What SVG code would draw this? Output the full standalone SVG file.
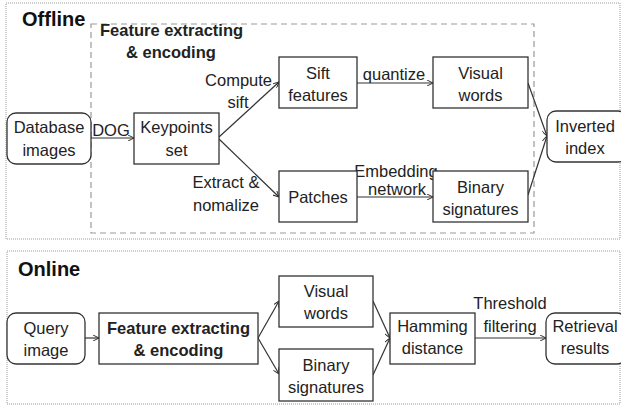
<svg xmlns="http://www.w3.org/2000/svg" width="621" height="406" viewBox="0 0 621 406">
<style>
.t{font-family:"Liberation Sans",Arial,sans-serif;font-size:16.5px;fill:#222;text-anchor:middle}
.b{font-weight:bold}
.h{font-family:"Liberation Sans",Arial,sans-serif;font-size:20px;font-weight:bold;fill:#111}
.box{fill:#fff;stroke:#333;stroke-width:1.3}
.c{fill:none;stroke:#333;stroke-width:1.2;marker-end:url(#ah)}
</style>
<defs>
<marker id="ah" viewBox="0 0 6 6" refX="6" refY="3" markerWidth="6" markerHeight="6" markerUnits="userSpaceOnUse" orient="auto">
<path d="M0,0 L6,3 L0,6" fill="none" stroke="#333" stroke-width="1"/>
</marker>
</defs>
<rect width="621" height="406" fill="#fff"/>
<g id="offline-frame">
<rect x="6" y="3" width="614" height="236" fill="none" stroke="#999" stroke-width="1" stroke-dasharray="1,1"/>
<text class="h" x="22" y="26">Offline</text>
</g>
<g id="feature-group">
<rect x="91" y="24" width="443" height="209" fill="none" stroke="#999" stroke-width="1.2" stroke-dasharray="6,4"/>
<text class="t b" x="100" y="36" text-anchor="start" style="text-anchor:start">Feature extracting</text>
<text class="t b" x="126" y="58" style="text-anchor:start">&amp; encoding</text>
</g>
<g id="online-frame">
<rect x="7" y="251" width="613" height="153" fill="none" stroke="#999" stroke-width="1" stroke-dasharray="1,1"/>
<text class="h" x="18" y="276">Online</text>
</g>
<g id="connectors">
<line class="c" x1="91" y1="138" x2="134" y2="138"/>
<line class="c" x1="219" y1="137" x2="279" y2="82"/>
<line class="c" x1="219" y1="139" x2="279" y2="197"/>
<line class="c" x1="357" y1="83" x2="433" y2="83"/>
<line class="c" x1="357" y1="197" x2="433" y2="197"/>
<line class="c" x1="528" y1="83" x2="547" y2="136"/>
<line class="c" x1="528" y1="195" x2="547" y2="136"/>
<line class="c" x1="85" y1="338" x2="99" y2="338"/>
<line class="c" x1="258" y1="338" x2="279" y2="301"/>
<line class="c" x1="258" y1="338" x2="279" y2="374"/>
<line class="c" x1="373" y1="301" x2="390" y2="338"/>
<line class="c" x1="373" y1="375" x2="390" y2="338"/>
<line class="c" x1="475" y1="338" x2="546" y2="338"/>
<text class="t" x="111" y="136">DOG</text>
<text class="t" x="272" y="86" style="text-anchor:end">Compute</text>
<text class="t" x="238" y="108">sift</text>
<text class="t" x="226" y="188">Extract &amp;</text>
<text class="t" x="226" y="211">nomalize</text>
<text class="t" x="394" y="80">quantize</text>
<text class="t" x="396" y="177">Embedding</text>
<text class="t" x="397" y="195">network</text>
<text class="t" x="510" y="309">Threshold</text>
<text class="t" x="510" y="332">filtering</text>
</g>
<g id="database-images">
<rect class="box" x="7" y="113" width="84" height="51" rx="9"/>
<text class="t" x="49" y="133">Database</text>
<text class="t" x="49" y="156">images</text>
</g>
<g id="keypoints-set">
<rect class="box" x="134" y="113" width="85" height="51"/>
<text class="t" x="176.5" y="133">Keypoints</text>
<text class="t" x="176.5" y="156">set</text>
</g>
<g id="sift-features">
<rect class="box" x="279" y="57" width="78" height="51"/>
<text class="t" x="318" y="79">Sift</text>
<text class="t" x="318" y="101">features</text>
</g>
<g id="patches">
<rect class="box" x="279" y="171" width="78" height="51"/>
<text class="t" x="318" y="203">Patches</text>
</g>
<g id="visual-words">
<rect class="box" x="433" y="57" width="95" height="51"/>
<text class="t" x="480.5" y="79">Visual</text>
<text class="t" x="480.5" y="101">words</text>
</g>
<g id="binary-signatures">
<rect class="box" x="433" y="171" width="95" height="51"/>
<text class="t" x="480.5" y="193">Binary</text>
<text class="t" x="480.5" y="215">signatures</text>
</g>
<g id="inverted-index">
<rect class="box" x="547" y="111" width="80" height="51" rx="9"/>
<text class="t" x="585" y="132">Inverted</text>
<text class="t" x="585" y="154">index</text>
</g>
<g id="query-image">
<rect class="box" x="7" y="313" width="78" height="51" rx="9"/>
<text class="t" x="46" y="334">Query</text>
<text class="t" x="46" y="356">image</text>
</g>
<g id="feature-extracting-encoding">
<rect class="box" x="99" y="313" width="159" height="51"/>
<text class="t b" x="178.5" y="334">Feature extracting</text>
<text class="t b" x="178.5" y="356">&amp; encoding</text>
</g>
<g id="online-visual-words">
<rect class="box" x="279" y="276" width="94" height="51"/>
<text class="t" x="326" y="297">Visual</text>
<text class="t" x="326" y="319">words</text>
</g>
<g id="online-binary-signatures">
<rect class="box" x="279" y="349" width="94" height="52"/>
<text class="t" x="326" y="371">Binary</text>
<text class="t" x="326" y="393">signatures</text>
</g>
<g id="hamming-distance">
<rect class="box" x="390" y="313" width="85" height="51"/>
<text class="t" x="432.5" y="332">Hamming</text>
<text class="t" x="432.5" y="354">distance</text>
</g>
<g id="retrieval-results">
<rect class="box" x="546" y="313" width="80" height="51" rx="9"/>
<text class="t" x="585" y="332">Retrieval</text>
<text class="t" x="585" y="354">results</text>
</g>
</svg>
